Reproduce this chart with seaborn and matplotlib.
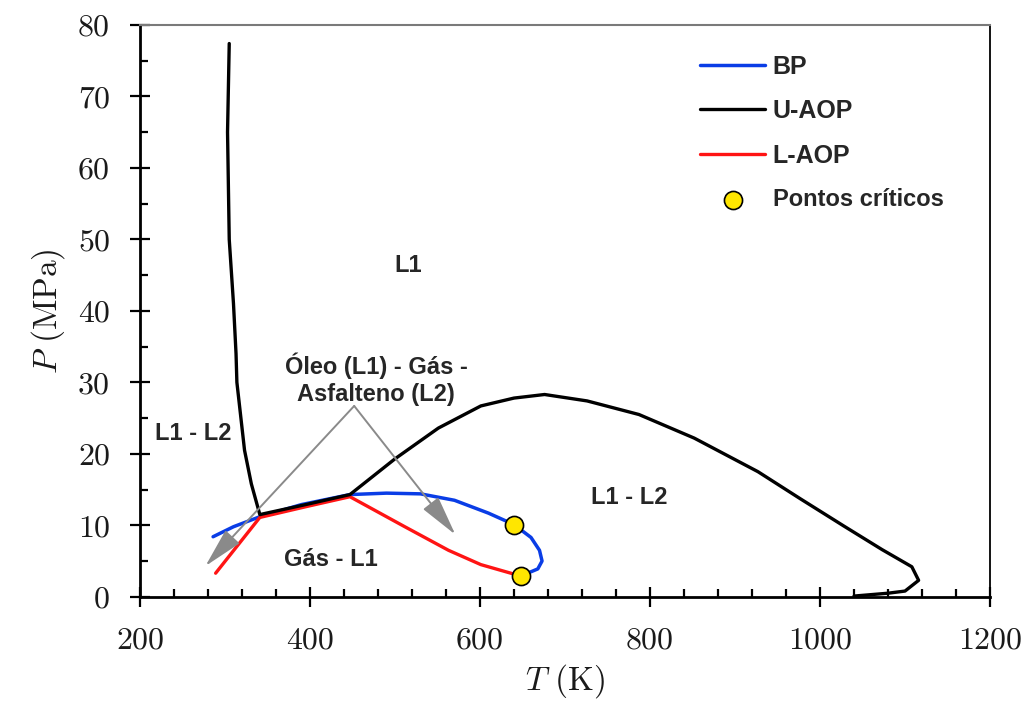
import numpy as np
import pandas as pd
import seaborn as sns
import matplotlib.pyplot as plt
from matplotlib.ticker import MultipleLocator

# curves (T in K, P in MPa)
bp_T = [286, 310, 341, 390, 447, 490, 530, 570, 610, 640, 660, 670, 673, 668, 648]
bp_P = [8.4, 9.8, 11.2, 12.9, 14.3, 14.5, 14.4, 13.5, 11.7, 10.1, 8.3, 6.5, 5.0, 3.9, 2.9]

uaop_T = [305, 303, 305, 310, 313, 314, 323, 331, 341, 395, 447, 500, 551, 601, 640,
          676, 726, 787, 852, 927, 977, 1028, 1073, 1108, 1116, 1100, 1080, 1040]
uaop_P = [77.4, 65.0, 50.0, 41.0, 34.0, 30.0, 20.5, 15.8, 11.5, 12.9, 14.3, 19.3, 23.6, 26.7, 27.8,
          28.3, 27.4, 25.5, 22.2, 17.5, 13.7, 9.9, 6.6, 4.2, 2.3, 0.8, 0.5, 0.1]

laop_T = [289, 341, 395, 447, 510, 563, 601, 648]
laop_P = [3.3, 11.1, 12.6, 14.0, 9.9, 6.5, 4.5, 2.9]

crit_T = [640, 648]
crit_P = [10.1, 2.9]

region_labels = ["L1", "Óleo (L1) - Gás -\nAsfalteno (L2)", "L1 - L2", "Gás - L1", "L1 - L2"]
region_T = [515, 478, 263, 425, 776]
region_P = [46.3, 30.4, 22.8, 5.2, 13.9]

arrow_from = (452, 26.7)
arrow_to = [(277, 4.3), (571, 8.7)]

sns.set_style("ticks")
plt.rcParams["mathtext.fontset"] = "cm"
plt.rcParams["axes.unicode_minus"] = False

fig, ax = plt.subplots(figsize=(10.27, 7.13), dpi=100)
fig.subplots_adjust(left=0.1363, right=0.964, bottom=0.163, top=0.965)

bp = pd.DataFrame({"T": bp_T, "P": bp_P})
ua = pd.DataFrame({"T": uaop_T, "P": uaop_P})
la = pd.DataFrame({"T": laop_T, "P": laop_P})

sns.lineplot(data=bp, x="T", y="P", sort=False, estimator=None, color="#0a3de6", lw=2.5, label="BP", ax=ax)
sns.lineplot(data=la, x="T", y="P", sort=False, estimator=None, color="#ff1414", lw=2.4, label="L-AOP", ax=ax)
sns.lineplot(data=ua, x="T", y="P", sort=False, estimator=None, color="black", lw=2.4, label="U-AOP", ax=ax)

# gray arrows from the three-phase label
for tx, ty in arrow_to:
    ax.annotate("", xy=(tx, ty), xytext=arrow_from,
                arrowprops=dict(arrowstyle="-|>,head_length=1.25,head_width=0.3",
                                color="#8a8a8a", lw=1.4, mutation_scale=20, shrinkA=0, shrinkB=0))

sns.scatterplot(x=crit_T, y=crit_P, color="#ffe600", edgecolor="black", linewidth=1.2,
                s=170, zorder=5, label="Pontos críticos", ax=ax)

for lab, tx, ty in zip(region_labels, region_T, region_P):
    ax.text(tx, ty, lab, ha="center", va="center", multialignment="center",
            fontsize=17, fontweight="bold", family="Liberation Sans", linespacing=1.2)

ax.set_xlim(200, 1200)
ax.set_ylim(0, 80)
ax.xaxis.set_major_locator(MultipleLocator(200))
ax.xaxis.set_minor_locator(MultipleLocator(40))
ax.yaxis.set_major_locator(MultipleLocator(10))
ax.yaxis.set_minor_locator(MultipleLocator(5))
ax.tick_params(which="major", direction="inout", length=15, width=1.6, pad=14,
               labelsize=23, color="black")
ax.tick_params(which="minor", direction="in", length=6, width=1.6, color="black")
for t in ax.get_xticklabels() + ax.get_yticklabels():
    t.set_family("cmr10")
    t.set_color("#1a1a1a")

ax.set_xlabel(r"$T\ \mathrm{(K)}$", fontsize=24, color="#1a1a1a", labelpad=6)
ax.set_ylabel(r"$P\ \mathrm{(MPa)}$", fontsize=24, color="#1a1a1a", labelpad=8)

for side in ["left", "bottom"]:
    ax.spines[side].set_linewidth(2)
    ax.spines[side].set_color("black")
ax.spines["right"].set_visible(True)
ax.spines["top"].set_visible(True)
ax.spines["right"].set_linewidth(1.3)
ax.spines["right"].set_color("black")
ax.spines["top"].set_linewidth(1.5)
ax.spines["top"].set_color("#7a7a7a")

handles, labels = ax.get_legend_handles_labels()
order = [labels.index(k) for k in ["BP", "U-AOP", "L-AOP", "Pontos críticos"]]
leg = ax.legend([handles[i] for i in order], [labels[i] for i in order],
                loc="upper left", bbox_to_anchor=(0.659, 0.948), frameon=False,
                borderpad=0, borderaxespad=0, handlelength=2.6, handletextpad=0.3,
                labelspacing=0.82, prop={"family": "Liberation Sans", "weight": "bold", "size": 18})
leg.get_texts()[3].set_fontsize(17)

fig.savefig("out.png", dpi=100)
